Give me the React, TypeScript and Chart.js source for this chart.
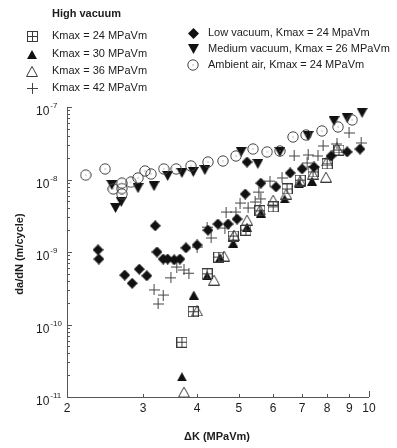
import React, { useEffect, useRef } from "react";
import { Chart, registerables } from "chart.js";
Chart.register(...registerables);

// High vacuum, Kmax = 24 MPaVm (crossed squares)
const hv24X = [3.69, 3.92, 4.22, 4.49, 4.85, 5.19, 5.59, 6.0, 6.46, 6.93, 7.42, 8.0, 8.52];
const hv24Y = [5.7e-11, 1.5e-10, 5.0e-10, 8.5e-10, 1.66e-9, 2.0e-9, 3.7e-9, 4.2e-9, 7.4e-9, 9.8e-9, 1.27e-8, 1.64e-8, 2.55e-8];
// High vacuum, Kmax = 30 MPaVm (filled triangles)
const hv30X = [3.69, 3.93, 4.22, 4.52, 4.85, 5.22, 5.62, 6.38, 6.89, 7.38];
const hv30Y = [1.9e-11, 2.55e-10, 4.7e-10, 8.3e-10, 1.33e-9, 2.2e-9, 3.45e-9, 5.4e-9, 8.7e-9, 9.5e-9];
// High vacuum, Kmax = 36 MPaVm (open triangles)
const hv36X = [3.73, 4.0, 4.38, 4.62, 4.87, 5.22, 5.59, 6.0, 6.43, 6.93, 7.42, 7.95, 8.0, 8.43];
const hv36Y = [1.17e-11, 1.54e-10, 4.1e-10, 8.8e-10, 1.71e-9, 2.76e-9, 3.8e-9, 5.2e-9, 6.3e-9, 9.5e-9, 1.19e-8, 1.08e-8, 1.8e-8, 2.72e-8];
// High vacuum, Kmax = 42 MPaVm (plus)
const hv42X = [3.18, 3.34, 3.25, 3.48, 3.59, 3.73, 3.83, 4.0, 4.31, 4.22, 4.64, 4.67, 4.92, 5.03, 5.25, 5.45, 5.56, 5.62, 5.9, 6.29, 6.71, 7.23, 7.62, 7.83, 8.43, 8.99, 9.59, 7.19];
const hv42Y = [3.0e-10, 2.55e-10, 1.92e-10, 4.4e-10, 6.2e-10, 5.65e-10, 5.1e-10, 1.17e-9, 1.56e-9, 2.2e-9, 2.14e-9, 3.56e-9, 3.56e-9, 4.74e-9, 4.05e-9, 4.9e-9, 6.7e-9, 5.4e-9, 9.5e-9, 1.05e-8, 2.11e-8, 2.18e-8, 2.11e-8, 2.9e-8, 3.09e-8, 4.38e-8, 3.19e-8, 1.69e-8];
// Low vacuum, Kmax = 24 MPaVm (diamonds)
const lowX = [2.36, 2.37, 2.72, 2.83, 2.94, 3.06, 3.2, 3.23, 3.34, 3.42, 3.54, 3.65, 3.77, 4.0, 4.24, 4.47, 4.72, 4.95, 5.17, 5.22, 5.62, 6.09, 6.57, 7.0, 7.46, 8.17, 8.9, 9.53];
const lowY = [1.07e-9, 8.0e-10, 4.8e-10, 3.7e-10, 5.8e-10, 4.7e-10, 2.3e-9, 1.0e-9, 8.0e-10, 8.0e-10, 7.8e-10, 8.0e-10, 1.14e-9, 1.25e-9, 2.0e-9, 2.43e-9, 2.43e-9, 2.85e-9, 6.3e-9, 1.74e-8, 8.9e-9, 7.9e-9, 1.23e-8, 1.4e-8, 1.49e-8, 2.11e-8, 2.4e-8, 2.63e-8];
// Medium vacuum, Kmax = 26 MPaVm (down triangles)
const medX = [2.54, 2.59, 2.67, 2.92, 3.18, 3.42, 3.69, 3.92, 4.17, 5.06, 5.53, 6.22, 7.23, 8.3, 8.9, 9.64];
const medY = [8.4e-9, 4.05e-9, 4.9e-9, 7.6e-9, 8.1e-9, 1.12e-8, 1.23e-8, 1.27e-8, 1.35e-8, 2.4e-8, 1.64e-8, 2.4e-8, 3.98e-8, 6.4e-8, 7.05e-8, 8.3e-8];
// Ambient air, Kmax = 24 MPaVm (open circles)
const airX = [2.21, 2.45, 2.56, 2.68, 2.68, 2.68, 2.81, 2.92, 3.03, 3.13, 3.35, 3.58, 3.87, 4.24, 4.59, 4.92, 5.39, 5.81, 6.22, 6.67, 7.15, 7.78, 8.48, 9.14];
const airY = [1.15e-8, 1.4e-8, 7.4e-9, 8.9e-9, 7.5e-9, 6.3e-9, 9.2e-9, 1.05e-8, 1.31e-8, 1.19e-8, 1.4e-8, 1.4e-8, 1.54e-8, 1.74e-8, 1.8e-8, 2.11e-8, 2.63e-8, 2.4e-8, 2.47e-8, 3.86e-8, 4.11e-8, 4.67e-8, 5.3e-8, 6.62e-8];

const xTickValues = [2, 3, 4, 5, 6, 7, 8, 9, 10];
const yExponents = [-7, -8, -9, -10, -11];

const legendTitle = "High vacuum";
const leftLegend = ["Kmax = 24 MPaVm", "Kmax = 30 MPaVm", "Kmax = 36 MPaVm", "Kmax = 42 MPaVm"];
const rightLegend = ["Low vacuum, Kmax = 24 MpaVm", "Medium vacuum, Kmax = 26 MPaVm", "Ambient air, Kmax = 24 MPaVm"];
const xTitle = "ΔK (MPaVm)";
const yTitle = "da/dN (m/cycle)";

const FONT = "'Liberation Sans', Arial, sans-serif";
const INK = "#1c1c1c";

function mk(w: number, h: number, draw: (c: CanvasRenderingContext2D) => void) {
  const cv = document.createElement("canvas");
  cv.width = w;
  cv.height = h;
  const c = cv.getContext("2d")!;
  draw(c);
  return cv;
}

function makeMarkers() {
  const stroke = "#3a3a3a";
  const fill = "#111";
  return {
    box: mk(11, 11, (c) => {
      c.strokeStyle = stroke;
      c.lineWidth = 1;
      c.strokeRect(0.5, 0.5, 10, 10);
      c.beginPath();
      c.moveTo(5.5, 0.5); c.lineTo(5.5, 10.5);
      c.moveTo(0.5, 5.5); c.lineTo(10.5, 5.5);
      c.stroke();
    }),
    triFill: mk(10, 9, (c) => {
      c.fillStyle = fill;
      c.beginPath();
      c.moveTo(5, 0); c.lineTo(10, 9); c.lineTo(0, 9); c.closePath();
      c.fill();
    }),
    triOpen: mk(12, 11, (c) => {
      c.strokeStyle = stroke;
      c.lineWidth = 1;
      c.beginPath();
      c.moveTo(6, 0.5); c.lineTo(11.5, 10.5); c.lineTo(0.5, 10.5); c.closePath();
      c.stroke();
    }),
    plus: mk(11, 11, (c) => {
      c.strokeStyle = "#444";
      c.lineWidth = 1;
      c.beginPath();
      c.moveTo(5.5, 0); c.lineTo(5.5, 11);
      c.moveTo(0, 5.5); c.lineTo(11, 5.5);
      c.stroke();
    }),
    diamond: mk(11, 11, (c) => {
      c.fillStyle = fill;
      c.beginPath();
      c.moveTo(5.5, 0); c.lineTo(11, 5.5); c.lineTo(5.5, 11); c.lineTo(0, 5.5); c.closePath();
      c.fill();
    }),
    triDown: mk(11, 10, (c) => {
      c.fillStyle = fill;
      c.beginPath();
      c.moveTo(0, 0); c.lineTo(11, 0); c.lineTo(5.5, 10); c.closePath();
      c.fill();
    }),
    circle: mk(12, 12, (c) => {
      c.strokeStyle = "#444";
      c.lineWidth = 1;
      c.beginPath();
      c.arc(6, 6, 5.2, 0, Math.PI * 2);
      c.stroke();
      c.fillStyle = "#777";
      c.fillRect(5.5, 5.5, 1, 1);
    }),
  };
}

function pts(xs: number[], ys: number[]) {
  return xs.map((x, i) => ({ x, y: ys[i] }));
}

export default function App() {
  const ref = useRef<HTMLCanvasElement>(null);
  useEffect(() => {
    document.body.style.margin = "0";
    const m = makeMarkers();
    const ds = (label: string, xs: number[], ys: number[], style: HTMLCanvasElement) => ({
      label,
      data: pts(xs, ys),
      pointStyle: style,
      pointRadius: 5,
      clip: false as any,
      showLine: false,
    });

    const overlay = {
      id: "overlay",
      afterDraw(chart: any) {
        const ctx: CanvasRenderingContext2D = chart.ctx;
        const xs = chart.scales.x;
        const ys = chart.scales.y;
        const ca = chart.chartArea;
        ctx.save();
        ctx.strokeStyle = "#555";
        ctx.lineWidth = 1;
        // axis lines
        ctx.beginPath();
        ctx.moveTo(ca.left + 0.5, ca.top);
        ctx.lineTo(ca.left + 0.5, ca.bottom + 0.5);
        ctx.lineTo(ca.right, ca.bottom + 0.5);
        ctx.stroke();
        // y ticks (inward)
        ctx.beginPath();
        for (let e = -11; e < -7; e++) {
          for (let k = 1; k <= 9; k++) {
            const v = k * Math.pow(10, e);
            const py = Math.round(ys.getPixelForValue(v)) + 0.5;
            const len = k === 1 ? 5 : 3;
            ctx.moveTo(ca.left, py);
            ctx.lineTo(ca.left + len, py);
          }
        }
        const pTop = Math.round(ys.getPixelForValue(1e-7)) + 0.5;
        ctx.moveTo(ca.left, pTop);
        ctx.lineTo(ca.left + 5, pTop);
        // x ticks (inward)
        for (const v of xTickValues) {
          if (v === 2) continue;
          const px = Math.round(xs.getPixelForValue(v)) + 0.5;
          const len = v === 10 ? 6 : 3;
          ctx.moveTo(px, ca.bottom);
          ctx.lineTo(px, ca.bottom - len);
        }
        ctx.stroke();

        ctx.fillStyle = INK;
        // x tick labels
        ctx.font = `12px ${FONT}`;
        ctx.textAlign = "center";
        ctx.textBaseline = "middle";
        for (const v of xTickValues) {
          ctx.fillText(String(v), xs.getPixelForValue(v), ca.bottom + 12);
        }
        // y tick labels 10^e
        for (const e of yExponents) {
          const py = ys.getPixelForValue(Math.pow(10, e));
          ctx.font = `12px ${FONT}`;
          ctx.textAlign = "left";
          ctx.fillText("10", 36, py + 5);
          const w = ctx.measureText("10").width;
          ctx.font = `8px ${FONT}`;
          ctx.fillText(String(e), 36 + w + 1, py - 1);
        }
        // axis titles
        ctx.font = `bold 11px ${FONT}`;
        ctx.textAlign = "center";
        ctx.fillText(xTitle, 217, 437);
        ctx.save();
        ctx.translate(20, 254);
        ctx.rotate(-Math.PI / 2);
        ctx.fillText(yTitle, 0, 0);
        ctx.restore();

        // legend
        ctx.font = `bold 11px ${FONT}`;
        ctx.textAlign = "left";
        ctx.fillText(legendTitle, 52, 14);
        ctx.font = `11px ${FONT}`;
        const leftIcons = [m.box, m.triFill, m.triOpen, m.plus];
        const leftRows = [36, 54, 71, 88];
        leftLegend.forEach((t, i) => {
          const ic = leftIcons[i];
          ctx.drawImage(ic, Math.round(32 - ic.width / 2), Math.round(leftRows[i] - ic.height / 2));
          ctx.fillText(t, 52, leftRows[i]);
        });
        const rightIcons = [m.diamond, m.triDown, m.circle];
        const rightRows = [33, 49, 65];
        rightLegend.forEach((t, i) => {
          const ic = rightIcons[i];
          ctx.drawImage(ic, Math.round(193 - ic.width / 2), Math.round(rightRows[i] - ic.height / 2));
          ctx.fillText(t, 208, rightRows[i]);
        });
        ctx.restore();
      },
    };

    const chart = new Chart(ref.current!, {
      type: "scatter",
      data: {
        datasets: [
          ds("Ambient air", airX, airY, m.circle),
          ds("Medium vacuum", medX, medY, m.triDown),
          ds("Low vacuum", lowX, lowY, m.diamond),
          ds("Kmax 42", hv42X, hv42Y, m.plus),
          ds("Kmax 24", hv24X, hv24Y, m.box),
          ds("Kmax 36", hv36X, hv36Y, m.triOpen),
          ds("Kmax 30", hv30X, hv30Y, m.triFill),
        ] as any,
      },
      options: {
        responsive: false,
        animation: false,
        devicePixelRatio: 1,
        layout: { padding: { left: 67, right: 28, top: 107, bottom: 51 } },
        plugins: { legend: { display: false }, tooltip: { enabled: false } },
        scales: {
          x: { type: "logarithmic", min: 2, max: 10, display: false },
          y: { type: "logarithmic", min: 1e-11, max: 1e-7, display: false },
        },
      },
      plugins: [overlay],
    });
    return () => chart.destroy();
  }, []);
  return (
    <div style={{ width: 397, height: 448, background: "#fff" }}>
      <canvas ref={ref} width={397} height={448} style={{ display: "block" }} />
    </div>
  );
}
